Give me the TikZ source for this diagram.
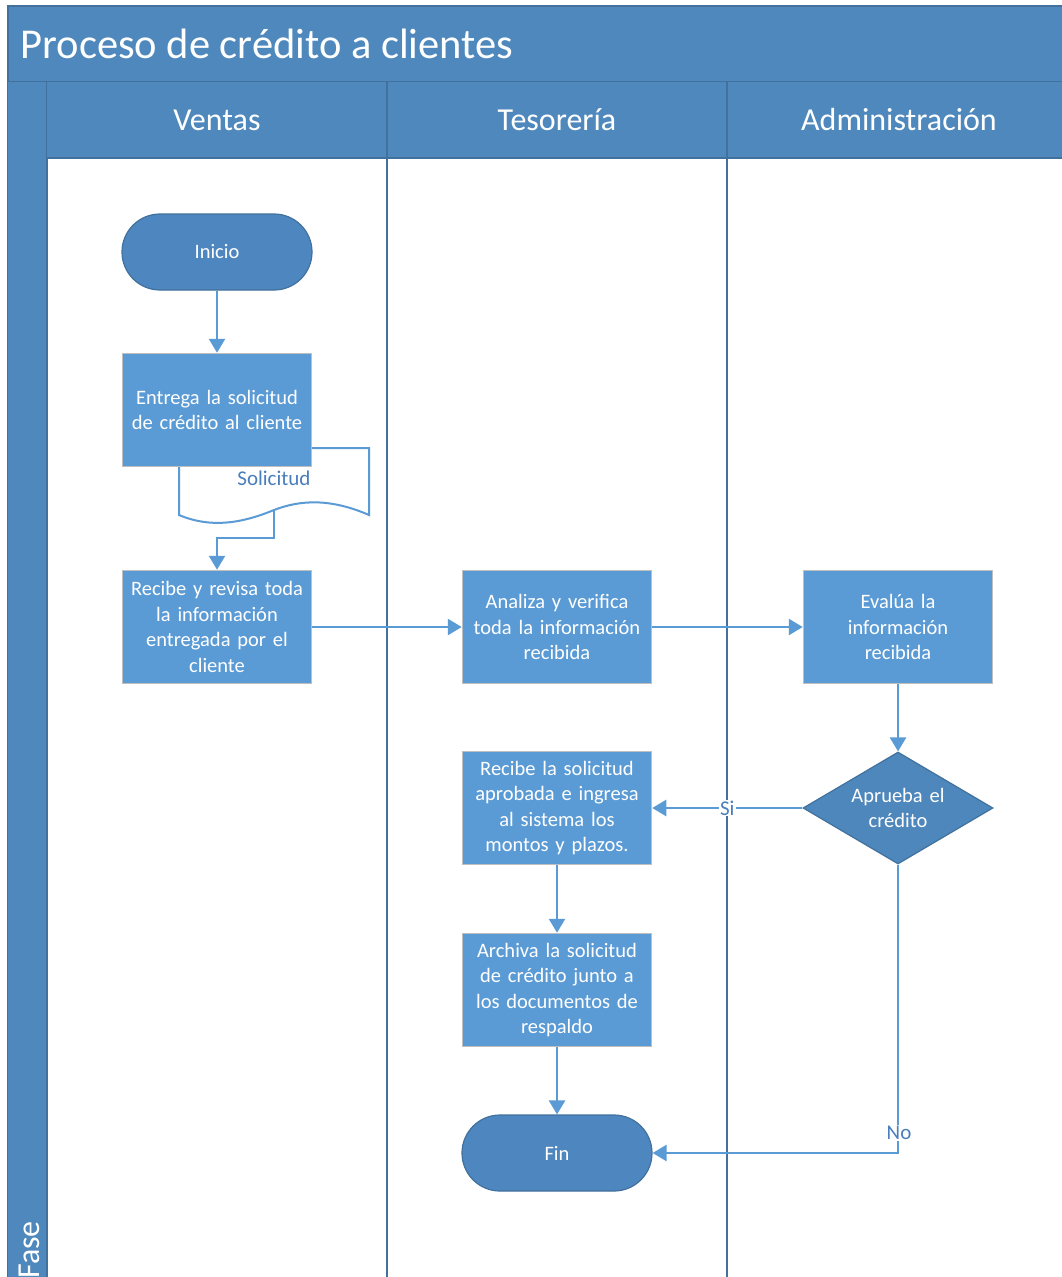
\documentclass[tikz,border=0pt]{standalone}
\usepackage{fontspec}
\setmainfont{Carlito}
\usetikzlibrary{arrows.meta,shapes.geometric,calc}
\definecolor{hdr}{HTML}{4F88BC}
\definecolor{bord}{HTML}{41719C}
\definecolor{proc}{HTML}{5B9BD5}
\definecolor{term}{HTML}{4E86BF}
\definecolor{dec}{HTML}{4E87BB}
\definecolor{pbord}{HTML}{BFBFBF}
\definecolor{arrc}{HTML}{5B9BD5}
\definecolor{lblc}{HTML}{4A7EBB}
\tikzset{
  procbox/.style={rectangle, fill=proc, draw=pbord, line width=1.5pt, minimum width=189pt, minimum height=113pt, text width=186pt, align=center, text=white, font=\fontsize{20.5}{25.5}\selectfont, inner sep=0pt},
  termbox/.style={rectangle, rounded corners=38pt, fill=term, draw=bord, line width=1.2pt, minimum width=190pt, minimum height=76pt, text=white, font=\fontsize{20.5}{25}\selectfont},
  decbox/.style={diamond, fill=dec, draw=bord, line width=1.2pt, minimum width=190pt, minimum height=112pt, shape aspect=1.7, inner sep=0pt, text width=100pt, align=center, text=white, font=\fontsize{20.5}{25.5}\selectfont},
  arr/.style={draw=arrc, line width=2.5pt, -{Triangle[width=16pt,length=14pt]}},
  lbl/.style={fill=white, inner sep=1pt, text=lblc, font=\fontsize{21}{24}\selectfont},
  lanehead/.style={text=white, font=\fontsize{32}{36}\selectfont},
}
\begin{document}
\begin{tikzpicture}[x=1pt,y=-1pt]
\clip (0,0) rectangle (1062,1277);
\fill[white] (0,0) rectangle (1062,1277);
% pool title
\fill[hdr] (8,6) rectangle (1070,82);
\draw[bord, line width=1.5pt] (8,1280) -- (8,6) -- (1070,6);
\draw[bord, line width=1.5pt] (8,82) -- (1070,82);
\node[anchor=west, text=white, font=\fontsize{42.5}{46}\selectfont] (title) at (17,44) {Proceso de crédito a clientes};
% phase column
\fill[hdr] (8,82) rectangle (47,1280);
\draw[bord, line width=1.5pt] (47,82) -- (47,1280);
\node[rotate=90, anchor=west, text=white, font=\fontsize{32}{36}\selectfont, inner sep=0pt] (fase) at (29,1279) {Fase};
% lane headers
\fill[hdr] (47,82) rectangle (1070,158);
\draw[bord, line width=1.5pt] (47,158) -- (1070,158);
\draw[bord, line width=2pt] (387,82) -- (387,1280);
\draw[bord, line width=2pt] (727,82) -- (727,1280);
\node[lanehead] (h1) at (217,120) {Ventas};
\node[lanehead] (h2) at (557,120) {Tesorería};
\node[lanehead] (h3) at (899,120) {Administración};
% nodes
\node[termbox] (inicio) at (217,252) {Inicio};
% document shape
\draw[draw=arrc, fill=white, line width=2pt] (179,448) -- (369,448) -- (369,515)
  .. controls (330,498) and (300,500) .. (274,510)
  .. controls (240,524) and (210,528) .. (179,515) -- cycle;
\node[text=lblc, font=\fontsize{21}{24}\selectfont] (soltxt) at (274,478) {Solicitud};
\coordinate (docb) at (274,510);
\node[procbox] (entrega) at (217,410) {Entrega la solicitud\\de crédito al cliente};
\node[procbox] (recibe) at (217,627) {Recibe y revisa toda\\la información\\entregada por el\\cliente};
\node[procbox] (analiza) at (557,627) {Analiza y verifica\\toda la información\\recibida};
\node[procbox] (evalua) at (898,627) {Evalúa la\\información\\recibida};
\node[decbox] (aprueba) at (898,808) {Aprueba el\\crédito};
\node[procbox] (ingresa) at (557,808) {Recibe la solicitud\\aprobada e ingresa\\al sistema los\\montos y plazos.};
\node[procbox] (archiva) at (557,990) {Archiva la solicitud\\de crédito junto a\\los documentos de\\respaldo};
\node[termbox] (fin) at (557,1153) {Fin};
% connectors
\draw[arr] (inicio) -- (entrega);
\draw[arr] (docb) -- (274,538) -| (recibe);
\draw[arr] (recibe) -- (analiza);
\draw[arr] (analiza) -- (evalua);
\draw[arr] (evalua) -- (aprueba);
\draw[arr] (aprueba) -- node[lbl] (si) {Si} (ingresa);
\draw[arr] (ingresa) -- (archiva);
\draw[arr] (archiva) -- (fin);
\draw[arr] (aprueba.south) |- (fin.east);
\node[lbl] (no) at (899,1133) {No};
\end{tikzpicture}
\end{document}
